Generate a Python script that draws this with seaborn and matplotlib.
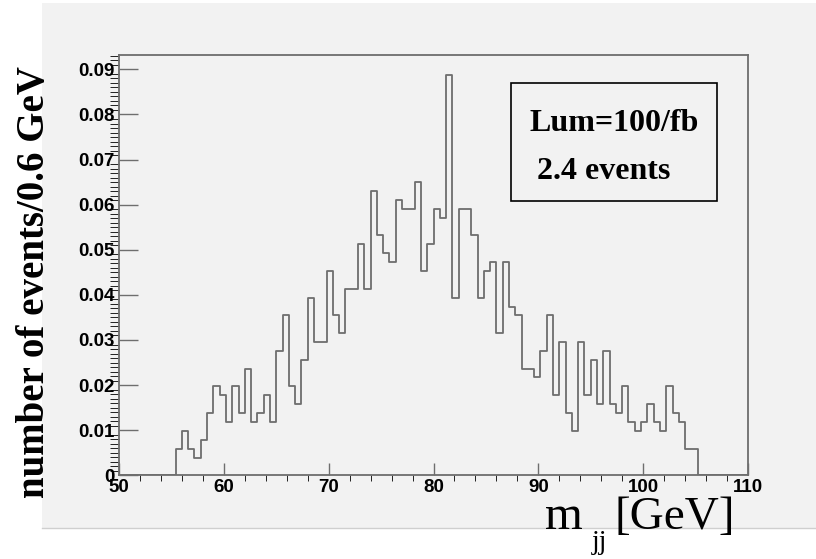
import numpy as np
import pandas as pd
import matplotlib
matplotlib.use("Agg")
import matplotlib.pyplot as plt
import matplotlib.patches as mpatches
from matplotlib.ticker import MultipleLocator, FuncFormatter
import seaborn as sns

# dijet mass histogram, 0.6 GeV bins from 50 to 110 (first filled bin starts at 55.4)
bin_width = 0.6
first_bin = 55.4
events_per_bin = [
    0.0059, 0.0099, 0.0059, 0.0039, 0.0079, 0.0138, 0.0197, 0.0177, 0.0118, 0.0197,
    0.0138, 0.0236, 0.0118, 0.0138, 0.0177, 0.0118, 0.0276, 0.0355, 0.0197, 0.0158,
    0.0256, 0.0394, 0.0296, 0.0296, 0.0453, 0.0355, 0.0315, 0.0414, 0.0414, 0.0512,
    0.0414, 0.0630, 0.0532, 0.0493, 0.0473, 0.0611, 0.0591, 0.0591, 0.0650, 0.0453,
    0.0512, 0.0591, 0.0571, 0.0887, 0.0394, 0.0591, 0.0591, 0.0532, 0.0394, 0.0453,
    0.0473, 0.0315, 0.0473, 0.0374, 0.0355, 0.0236, 0.0236, 0.0217, 0.0276, 0.0355,
    0.0177, 0.0296, 0.0138, 0.0099, 0.0296, 0.0177, 0.0256, 0.0158, 0.0276, 0.0158,
    0.0138, 0.0197, 0.0118, 0.0099, 0.0118, 0.0158, 0.0118, 0.0099, 0.0197, 0.0138,
    0.0118, 0.0059, 0.0059,
]
x_ticks = [50, 60, 70, 80, 90, 100, 110]
y_ticks = [0, 0.01, 0.02, 0.03, 0.04, 0.05, 0.06, 0.07, 0.08, 0.09]

bin_edges = list(np.linspace(50, 110, 101))
centers = first_bin + bin_width * (np.arange(len(events_per_bin)) + 0.5)
df = pd.DataFrame({"mjj": centers, "w": events_per_bin})

fig = plt.figure(figsize=(8.16, 5.59), dpi=100)
fig.patch.set_facecolor("white")

# grey canvas like the ROOT pad
bg = mpatches.Rectangle((42 / 816, 1 - 528 / 559), 774 / 816, 525 / 559,
                        transform=fig.transFigure, facecolor="#f2f2f2",
                        edgecolor="none", zorder=-2)
fig.add_artist(bg)
fig.add_artist(plt.Line2D([42 / 816, 1], [1 - 528 / 559] * 2, transform=fig.transFigure,
                          color="#cfcfcf", lw=1, zorder=-1))

ax = fig.add_axes([119 / 816, 1 - 475.3 / 559, 629 / 816, 420.8 / 559])
ax.set_facecolor("#f2f2f2")

sns.histplot(data=df, x="mjj", weights="w", bins=bin_edges, element="step",
             fill=False, color="#6e6e6e", linewidth=1.3, ax=ax)

ax.set_xlim(50, 110)
ax.set_ylim(0, 0.0933)
ax.set_xlabel("")
ax.set_ylabel("")

frame_col = "#6e6e6e"
for s in ax.spines.values():
    s.set_color(frame_col)
    s.set_linewidth(1.3)

ax.set_xticks(x_ticks)
ax.set_yticks(y_ticks)
ax.xaxis.set_minor_locator(MultipleLocator(2))
ax.yaxis.set_minor_locator(MultipleLocator(0.001))
ax.yaxis.set_major_formatter(FuncFormatter(lambda v, p: "0" if abs(v) < 1e-9 else f"{v:.2f}"))
ax.tick_params(direction="in", color=frame_col, width=1, labelsize=13.5)
ax.tick_params(axis="x", which="major", length=8.6, pad=3)
ax.tick_params(axis="x", which="minor", length=4.3)
ax.tick_params(axis="y", which="major", length=13.7, pad=3)
ax.tick_params(axis="y", which="minor", length=6.5)
for lab in ax.get_xticklabels() + ax.get_yticklabels():
    lab.set_fontfamily("Liberation Sans")
    lab.set_fontweight("bold")

# axis titles
fig.text(35 / 816, 1 - 282.5 / 559, "number of events/0.6 GeV", rotation=90,
         ha="center", va="center", fontsize=28, fontweight="bold",
         family="Liberation Serif")
fig.text(545 / 816, 1 - 529 / 559, "m", ha="left", va="baseline", fontsize=35,
         family="Liberation Serif")
fig.text(592 / 816, 1 - 549 / 559, "jj", ha="left", va="baseline", fontsize=20,
         family="Liberation Serif")
fig.text(615 / 816, 1 - 529 / 559, "[GeV]", ha="left", va="baseline", fontsize=34,
         family="Liberation Serif")

# luminosity box
box = mpatches.Rectangle((511 / 816, 1 - 201 / 559), 206 / 816, 118 / 559,
                         transform=fig.transFigure, facecolor="#f2f2f2",
                         edgecolor="black", lw=1.2, zorder=3)
fig.add_artist(box)
fig.text(529 / 816, 1 - 131 / 559, "Lum=100/fb", ha="left", va="baseline",
         fontsize=23, fontweight="bold", family="Liberation Serif", zorder=4)
fig.text(537 / 816, 1 - 179 / 559, "2.4 events", ha="left", va="baseline",
         fontsize=23, fontweight="bold", family="Liberation Serif", zorder=4)

fig.savefig("out.png", dpi=100, facecolor=fig.get_facecolor())
